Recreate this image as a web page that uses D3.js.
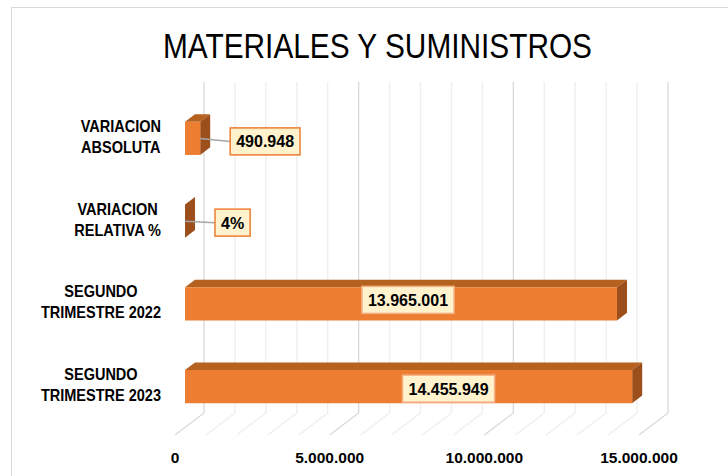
<!DOCTYPE html>
<html>
<head>
<meta charset="utf-8">
<script src="https://d3js.org/d3.v7.min.js"></script>
<style>
    body { margin: 0; background: #fff; }
    svg { display: block; }
</style>
</head>
<body>
<svg id="chart" width="728" height="476"></svg>
<script>
    // datos del grafico
    const title = "MATERIALES Y SUMINISTROS";
    const categories = ["VARIACION\nABSOLUTA", "VARIACION\nRELATIVA %", "SEGUNDO\nTRIMESTRE 2022", "SEGUNDO\nTRIMESTRE 2023"];
    const values = [490948, 0.04, 13965001, 14455949];
    const valueLabels = ["490.948", "4%", "13.965.001", "14.455.949"];
    const majorTicks = [0, 5000000, 10000000, 15000000];

    const fmt = d3.formatLocale({decimal: ",", thousands: ".", grouping: [3], currency: ["$", ""]}).format(",d");

    const svg = d3.select("#chart");

    // profundidad 3D (vector hacia el fondo)
    const depth = {dx: 29, dy: -22};
    const floorY = 435, wallTop = 104;
    const t0 = 0.345, t1 = 0.69;

    const x = d3.scaleLinear().domain([0, 15000000]).range([175, 639]);
    const y = d3.scaleBand()
        .domain(categories)
        .range([wallTop + 0.6, floorY + 0.6])
        .paddingInner(0.6)
        .paddingOuter(0.3);

    const pt = (v, t, yy) => [x(v) + depth.dx * t, yy + depth.dy * t];
    const poly = pts => pts.map(p => p.join(",")).join(" ");

    // borde del area
    svg.append("rect")
        .attr("x", 11.5).attr("y", 7.5)
        .attr("width", 800).attr("height", 600)
        .attr("fill", "none").attr("stroke", "#d9d9d9");

    // titulo
    svg.append("text")
        .attr("x", 377.5).attr("y", 58)
        .attr("text-anchor", "middle")
        .attr("font-family", "'Liberation Sans Narrow', 'Liberation Sans', Arial, sans-serif")
        .attr("font-size", 35)
        .attr("textLength", 429)
        .attr("lengthAdjust", "spacingAndGlyphs")
        .attr("fill", "#000")
        .text(title);

    // lineas de cuadricula (pared del fondo y piso)
    const grid = svg.append("g");
    x.ticks(15).forEach(v => {
        const col = majorTicks.includes(v) ? "#d9d9d9" : "#eeeeee";
        grid.append("polyline")
            .attr("points", poly([pt(v, 1, wallTop), pt(v, 1, floorY), pt(v, 0, floorY)]))
            .attr("fill", "none")
            .attr("stroke", col)
            .attr("stroke-width", 1.3);
    });

    // barras 3D
    const bars = svg.append("g");
    categories.forEach((c, i) => {
        const v = values[i];
        const ya = y(c), yb = y(c) + y.bandwidth();
        bars.append("polygon")
            .attr("points", poly([pt(0, t0, ya), pt(v, t0, ya), pt(v, t1, ya), pt(0, t1, ya)]))
            .attr("fill", "#b5611f");
        bars.append("polygon")
            .attr("points", poly([pt(v, t0, ya), pt(v, t1, ya), pt(v, t1, yb), pt(v, t0, yb)]))
            .attr("fill", "#9c4f1b");
        bars.append("polygon")
            .attr("points", poly([pt(0, t0, ya), pt(v, t0, ya), pt(v, t0, yb), pt(0, t0, yb)]))
            .attr("fill", "#ed7d31");
    });

    // etiquetas de datos
    const labelPos = [
        {outside: true, dx: 30, dy: 3},
        {outside: true, dx: 30, dy: 1.5},
        {outside: false, dx: 7, dy: -4},
        {outside: false, dx: 40, dy: 2}
    ];
    const lbl = svg.append("g");
    categories.forEach((c, i) => {
        const v = values[i];
        const faceTop = pt(v, t0, y(c));
        const faceBot = pt(0, t0, y(c) + y.bandwidth());
        const cy = (faceTop[1] + faceBot[1]) / 2;
        const endX = faceTop[0];
        const p = labelPos[i];

        const t = lbl.append("text")
            .attr("font-family", "'Liberation Sans', Arial, sans-serif")
            .attr("font-weight", "bold")
            .attr("font-size", 16)
            .attr("fill", "#000")
            .attr("text-anchor", "middle")
            .text(valueLabels[i]);
        const w = t.node().getComputedTextLength() + 12, h = 27;

        let bx, by = cy + p.dy - h / 2;
        if (p.outside) {
            bx = endX + p.dx;
            lbl.insert("line", "text")
                .attr("x1", endX).attr("y1", cy)
                .attr("x2", bx).attr("y2", by + h / 2)
                .attr("stroke", "#a6a6a6").attr("stroke-width", 1.5);
        } else {
            bx = (faceBot[0] + endX) / 2 + p.dx - w / 2;
        }
        lbl.insert("rect", "text")
            .attr("x", bx).attr("y", by)
            .attr("width", w).attr("height", h)
            .attr("fill", "#fff2cc")
            .attr("stroke", p.outside ? "#ed7d31" : "#f4b183")
            .attr("stroke-width", 1.5);
        t.attr("x", bx + w / 2).attr("y", by + h / 2 + 6);
    });

    // eje de categorias (letra mas alta y estrecha, estilo Calibri)
    const cat = svg.append("g")
        .attr("font-family", "'Liberation Sans', Arial, sans-serif")
        .attr("font-weight", "bold")
        .attr("font-size", 14.5)
        .attr("fill", "#000");
    categories.forEach(c => {
        const lines = c.split("\n");
        const mid = y(c) + y.bandwidth() / 2;
        const g = cat.append("g");
        const texts = lines.map((ln, j) => g.append("text")
            .attr("text-anchor", "middle")
            .attr("y", mid - 3.5 + (j - (lines.length - 1) / 2) * 21)
            .text(ln));
        const widths = texts.map(tx => tx.node().getComputedTextLength());
        const widest = d3.max(widths);
        texts.forEach((tx, j) => tx
            .attr("x", 161 - widest / 2)
            .attr("font-size", 16.5)
            .attr("textLength", widths[j])
            .attr("lengthAdjust", "spacingAndGlyphs"));
    });

    // eje de valores
    svg.append("g")
        .selectAll("text")
        .data(majorTicks)
        .join("text")
        .attr("x", d => x(d))
        .attr("y", 463)
        .attr("text-anchor", "middle")
        .attr("font-family", "'Liberation Sans', Arial, sans-serif")
        .attr("font-weight", "bold")
        .attr("font-size", 15.5)
        .attr("fill", "#000")
        .text(d => fmt(d));
</script>
</body>
</html>
